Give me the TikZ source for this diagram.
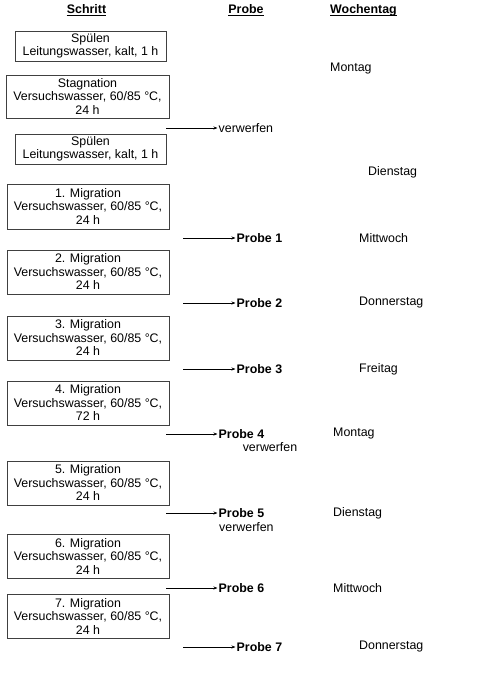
\documentclass[tikz,border=0pt]{standalone}
\usepackage{fontspec}
\setmainfont{Liberation Sans}
\usetikzlibrary{arrows.meta}
\begin{document}
\begin{tikzpicture}[x=1pt,y=-1pt,
  every node/.style={font=\fontsize{12.4}{13.5}\selectfont, inner sep=0pt},
  stepbox/.style={draw=black!75, line width=0.8pt, align=center, minimum height=#1},
  narrowbox/.style={stepbox=30pt, minimum width=151pt},
  widebox/.style={stepbox=44pt, minimum width=162pt},
  hdr/.style={font=\fontsize{12.4}{13.5}\selectfont\bfseries, anchor=base, text depth=0pt},
  lbl/.style={anchor=west},
  bold/.style={font=\fontsize{12.4}{13.5}\selectfont\bfseries},
  conn/.style={-{Stealth[length=4pt,width=3pt]}, line width=0.6pt}
]
\useasboundingbox (0,0) rectangle (484,673);
% headers
\node[hdr] (h1) at (86.5,13.3) {Schritt};
\node[hdr] (h2) at (246,13.3) {Probe};
\node[hdr] (h3) at (363.5,13.3) {Wochentag};
\foreach \h in {h1,h2,h3} {
  \draw[line width=0.7pt] ([yshift=-1.6pt]\h.base west) -- ([yshift=-1.6pt]\h.base east);
}
% boxes
\node[narrowbox] (b1) at (90.5,46) {Spülen\\Leitungswasser, kalt, 1 h};
\node[widebox, minimum width=163pt, minimum height=43pt] (b2) at (87.5,96.5) {Stagnation\\Versuchswasser, 60/85 °C,\\24 h};
\node[narrowbox] (b3) at (90.5,149) {Spülen\\Leitungswasser, kalt, 1 h};
\node[widebox, minimum height=45pt] (b4) at (88,206.5) {1. Migration\\Versuchswasser, 60/85 °C,\\24 h};
\node[widebox] (b5) at (88,272) {2. Migration\\Versuchswasser, 60/85 °C,\\24 h};
\node[widebox] (b6) at (88,338) {3. Migration\\Versuchswasser, 60/85 °C,\\24 h};
\node[widebox] (b7) at (88,403) {4. Migration\\Versuchswasser, 60/85 °C,\\72 h};
\node[widebox] (b8) at (88,483) {5. Migration\\Versuchswasser, 60/85 °C,\\24 h};
\node[widebox] (b9) at (88,556) {6. Migration\\Versuchswasser, 60/85 °C,\\24 h};
\node[widebox] (b10) at (88,616) {7. Migration\\Versuchswasser, 60/85 °C,\\24 h};
% sample labels
\node[lbl] (p0) at (218.5,128) {verwerfen};
\node[lbl,bold] (p1) at (236.5,238) {Probe 1};
\node[lbl,bold] (p2) at (236.5,303) {Probe 2};
\node[lbl,bold] (p3) at (236.5,369) {Probe 3};
\node[lbl,bold] (p4) at (218.5,434) {Probe 4};
\node (v4) at (270,447) {verwerfen};
\node[lbl,bold] (p5) at (218.5,513) {Probe 5};
\node[lbl] (v5) at (219,527) {verwerfen};
\node[lbl,bold] (p6) at (218.5,588) {Probe 6};
\node[lbl,bold] (p7) at (236.5,647) {Probe 7};
% weekdays
\node[lbl] (d1) at (330,69) {Montag};
\node[lbl] (d2) at (368,172) {Dienstag};
\node[lbl] (d3) at (359,238) {Mittwoch};
\node[lbl] (d4) at (359,303) {Donnerstag};
\node[lbl] (d5) at (359,369) {Freitag};
\node[lbl] (d6) at (333,434) {Montag};
\node[lbl] (d7) at (333,513) {Dienstag};
\node[lbl] (d8) at (333,588) {Mittwoch};
\node[lbl] (d9) at (359,647) {Donnerstag};
% arrow starts
\coordinate (s0) at (166,128);
\coordinate (s1) at (183,238);
\coordinate (s2) at (183,303);
\coordinate (s3) at (183,369);
\coordinate (s4) at (166,434);
\coordinate (s5) at (166,513);
\coordinate (s6) at (166,588);
\coordinate (s7) at (183,647);
\foreach \i in {0,...,7} {
  \draw[conn] (s\i) -- ([xshift=-1pt]p\i.west);
}
\end{tikzpicture}
\end{document}
